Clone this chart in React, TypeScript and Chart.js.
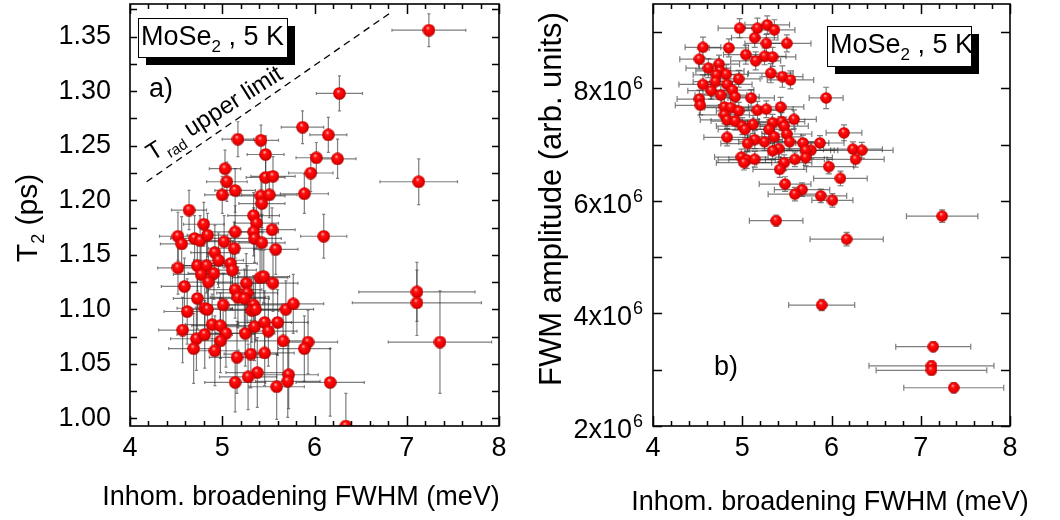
import React, { useEffect, useRef } from "react";
import { Chart, registerables } from "chart.js";

Chart.register(...registerables);

const FONT = '"Liberation Sans", Arial, Helvetica, sans-serif';

// ---------- Panel a) : T2 vs inhomogeneous broadening ----------
const fwhmA = [
  7.24, 6.27, 5.87, 6.15, 6.02, 6.25, 5.96, 5.89, 7.13, 6.10,
  5.17, 5.42, 5.47, 5.03, 5.05, 5.47, 5.55, 5.00, 5.14, 5.42,
  5.51, 5.43, 4.64, 5.34, 5.37, 4.80, 5.14, 5.34, 5.54, 4.52,
  4.56, 4.70, 4.76, 4.84, 5.02, 5.35, 5.43, 5.13, 4.92, 5.58,
  4.52, 4.59, 4.73, 4.83, 4.77, 4.91, 4.85, 4.96, 5.09, 5.11,
  5.41, 5.45, 5.55, 5.26, 4.73, 5.14, 5.27, 5.17, 5.24, 5.01,
  4.81, 4.84, 4.62, 5.34, 5.32, 5.36, 5.69, 5.77, 7.11, 7.11,
  7.36, 4.57, 4.72, 4.81, 4.69, 4.89, 4.98, 5.04, 4.98, 4.92,
  5.25, 5.35, 5.46, 5.50, 5.60, 5.66, 5.93, 5.89, 5.16, 5.31,
  5.46, 5.38, 5.28, 5.14, 5.59, 5.72, 5.71, 6.17, 6.34,
];
const t2A = [
  1.356, 1.298, 1.267, 1.260, 1.239, 1.238, 1.225, 1.206, 1.217, 1.167,
  1.256, 1.255, 1.242, 1.229, 1.217, 1.221, 1.222, 1.205, 1.209, 1.204,
  1.205, 1.197, 1.191, 1.186, 1.179, 1.178, 1.171, 1.171, 1.173, 1.167,
  1.160, 1.165, 1.163, 1.168, 1.162, 1.165, 1.161, 1.156, 1.152, 1.155,
  1.138, 1.121, 1.140, 1.140, 1.132, 1.133, 1.125, 1.145, 1.142, 1.136,
  1.129, 1.130, 1.124, 1.124, 1.110, 1.118, 1.115, 1.111, 1.110, 1.104,
  1.101, 1.100, 1.098, 1.104, 1.099, 1.100, 1.100, 1.105, 1.116, 1.106,
  1.070, 1.081, 1.073, 1.077, 1.064, 1.086, 1.085, 1.078, 1.071, 1.062,
  1.078, 1.084, 1.088, 1.080, 1.088, 1.071, 1.070, 1.064, 1.056, 1.059,
  1.060, 1.042, 1.038, 1.033, 1.029, 1.040, 1.034, 1.033, 0.993,
];
const fwhmErrA = [
  0.40, 0.25, 0.23, 0.20, 0.22, 0.20, 0.24, 0.26, 0.42, 0.25,
  0.17, 0.19, 0.20, 0.17, 0.22, 0.21, 0.24, 0.19, 0.22, 0.26,
  0.30, 0.25, 0.19, 0.28, 0.24, 0.22, 0.30, 0.27, 0.25, 0.20,
  0.23, 0.26, 0.24, 0.22, 0.27, 0.29, 0.25, 0.28, 0.26, 0.24,
  0.22, 0.25, 0.27, 0.25, 0.30, 0.28, 0.26, 0.27, 0.29, 0.26,
  0.30, 0.28, 0.27, 0.31, 0.26, 0.29, 0.33, 0.30, 0.27, 0.28,
  0.30, 0.27, 0.25, 0.31, 0.29, 0.27, 0.30, 0.33, 0.63, 0.70,
  0.56, 0.26, 0.28, 0.30, 0.27, 0.29, 0.31, 0.28, 0.30, 0.26,
  0.32, 0.30, 0.29, 0.31, 0.33, 0.30, 0.32, 0.28, 0.30, 0.29,
  0.32, 0.34, 0.31, 0.33, 0.30, 0.32, 0.35, 0.37, 0.30,
];
const t2ErrA = [
  0.015, 0.016, 0.015, 0.016, 0.014, 0.018, 0.017, 0.018, 0.021, 0.020,
  0.016, 0.014, 0.017, 0.017, 0.018, 0.019, 0.018, 0.017, 0.020, 0.019,
  0.021, 0.022, 0.018, 0.021, 0.023, 0.020, 0.024, 0.022, 0.020, 0.022,
  0.025, 0.021, 0.023, 0.020, 0.024, 0.022, 0.026, 0.024, 0.025, 0.023,
  0.024, 0.026, 0.023, 0.025, 0.027, 0.024, 0.026, 0.025, 0.023, 0.027,
  0.025, 0.024, 0.026, 0.027, 0.028, 0.026, 0.025, 0.028, 0.027, 0.029,
  0.026, 0.028, 0.030, 0.027, 0.029, 0.028, 0.026, 0.027, 0.027, 0.030,
  0.047, 0.030, 0.029, 0.031, 0.032, 0.028, 0.030, 0.031, 0.029, 0.032,
  0.030, 0.031, 0.029, 0.032, 0.030, 0.031, 0.029, 0.030, 0.033, 0.031,
  0.030, 0.032, 0.030, 0.027, 0.030, 0.031, 0.033, 0.031, 0.030,
];
const limitLineX = [4.18, 6.85];
const limitLineY = [1.217, 1.3735];
const fwhmTicks = [4, 5, 6, 7, 8];
const t2Ticks = [1.0, 1.05, 1.1, 1.15, 1.2, 1.25, 1.3, 1.35];

// ---------- Panel b) : FWM amplitude vs inhomogeneous broadening ----------
const fwhmB = [
  4.97, 5.17, 5.28, 5.36, 5.14, 5.27, 5.50, 4.56, 4.85, 5.04,
  5.25, 5.34, 5.15, 4.52, 4.62, 4.74, 4.75, 4.82, 4.71, 5.32,
  5.45, 5.54, 4.96, 4.56, 4.70, 4.83, 4.65, 4.76, 4.89, 4.92,
  4.52, 4.53, 5.10, 5.94, 4.80, 4.87, 4.96, 5.17, 5.27, 5.43,
  4.80, 4.83, 4.92, 5.58, 5.00, 5.12, 5.34, 5.44, 5.03, 5.30,
  5.47, 6.14, 4.83, 5.14, 5.25, 5.36, 5.50, 5.53, 5.06, 5.68,
  5.87, 5.41, 5.34, 5.77, 5.71, 6.24, 6.34, 4.99, 5.05, 5.14,
  5.02, 5.71, 5.59, 6.27, 5.47, 5.97, 5.42, 6.10, 5.48, 5.67,
  5.59, 5.88, 6.01, 5.38, 7.24, 6.17, 5.89, 7.14, 7.12, 7.12,
  7.37,
];
const ampB = [
  9.07e6, 9.07e6, 9.13e6, 9.04e6, 8.90e6, 8.80e6, 8.80e6, 8.73e6, 8.72e6, 8.60e6,
  8.57e6, 8.56e6, 8.49e6, 8.52e6, 8.36e6, 8.43e6, 8.31e6, 8.25e6, 8.24e6, 8.27e6,
  8.21e6, 8.15e6, 8.17e6, 8.07e6, 8.12e6, 8.07e6, 7.96e6, 7.88e6, 7.97e6, 7.85e6,
  7.81e6, 7.70e6, 7.83e6, 7.83e6, 7.67e6, 7.66e6, 7.60e6, 7.61e6, 7.63e6, 7.67e6,
  7.53e6, 7.44e6, 7.42e6, 7.45e6, 7.33e6, 7.36e6, 7.39e6, 7.41e6, 7.27e6, 7.27e6,
  7.33e6, 7.21e6, 7.13e6, 7.09e6, 7.05e6, 7.14e6, 7.19e6, 7.05e6, 7.02e6, 7.03e6,
  7.03e6, 6.93e6, 6.89e6, 6.90e6, 6.90e6, 6.92e6, 6.90e6, 6.78e6, 6.73e6, 6.74e6,
  6.68e6, 6.77e6, 6.74e6, 6.74e6, 6.68e6, 6.61e6, 6.56e6, 6.40e6, 6.30e6, 6.20e6,
  6.12e6, 6.09e6, 6.01e6, 5.65e6, 5.73e6, 5.32e6, 4.15e6, 3.41e6, 3.07e6, 2.99e6,
  2.68e6,
];
const fwhmErrB = [
  0.24, 0.22, 0.25, 0.23, 0.26, 0.24, 0.27, 0.20, 0.22, 0.25,
  0.24, 0.26, 0.28, 0.22, 0.25, 0.23, 0.27, 0.24, 0.26, 0.25,
  0.23, 0.26, 0.24, 0.27, 0.25, 0.28, 0.26, 0.29, 0.24, 0.27,
  0.25, 0.28, 0.26, 0.19, 0.27, 0.29, 0.25, 0.28, 0.30, 0.26,
  0.28, 0.30, 0.27, 0.25, 0.29, 0.31, 0.28, 0.26, 0.30, 0.29,
  0.27, 0.20, 0.26, 0.31, 0.29, 0.30, 0.28, 0.32, 0.30, 0.29,
  0.27, 0.33, 0.31, 0.30, 0.32, 0.33, 0.35, 0.30, 0.32, 0.29,
  0.31, 0.30, 0.33, 0.32, 0.31, 0.28, 0.30, 0.30, 0.29, 0.31,
  0.30, 0.29, 0.23, 0.30, 0.40, 0.41, 0.37, 0.42, 0.70, 0.62,
  0.56,
];
const ampErrB = [
  0.17e6, 0.18e6, 0.16e6, 0.18e6, 0.17e6, 0.16e6, 0.15e6, 0.18e6, 0.16e6, 0.17e6,
  0.15e6, 0.17e6, 0.16e6, 0.18e6, 0.17e6, 0.16e6, 0.18e6, 0.17e6, 0.16e6, 0.17e6,
  0.19e6, 0.16e6, 0.15e6, 0.17e6, 0.16e6, 0.17e6, 0.15e6, 0.17e6, 0.16e6, 0.15e6,
  0.16e6, 0.17e6, 0.15e6, 0.19e6, 0.16e6, 0.17e6, 0.15e6, 0.16e6, 0.15e6, 0.17e6,
  0.16e6, 0.15e6, 0.16e6, 0.17e6, 0.15e6, 0.16e6, 0.15e6, 0.16e6, 0.15e6, 0.17e6,
  0.16e6, 0.14e6, 0.15e6, 0.16e6, 0.15e6, 0.16e6, 0.15e6, 0.14e6, 0.15e6, 0.14e6,
  0.13e6, 0.15e6, 0.14e6, 0.15e6, 0.14e6, 0.13e6, 0.14e6, 0.14e6, 0.15e6, 0.14e6,
  0.13e6, 0.14e6, 0.13e6, 0.14e6, 0.14e6, 0.13e6, 0.14e6, 0.13e6, 0.13e6, 0.12e6,
  0.12e6, 0.12e6, 0.12e6, 0.10e6, 0.11e6, 0.12e6, 0.10e6, 0.09e6, 0.09e6, 0.08e6,
  0.09e6,
];
const ampTicks = [2e6, 4e6, 6e6, 8e6];

// ---------- helpers ----------
function range(from: number, to: number, step: number): number[] {
  const out: number[] = [];
  for (let v = from; v <= to + step * 1e-6; v += step) out.push(+v.toFixed(6));
  return out;
}

function makeSphere(d: number): HTMLCanvasElement {
  const c = document.createElement("canvas");
  c.width = d;
  c.height = d;
  const g = c.getContext("2d")!;
  const r = d / 2;
  const grad = g.createRadialGradient(d * 0.4, d * 0.3, 0, d * 0.5, d * 0.5, r * 1.02);
  grad.addColorStop(0, "#ffe4e4");
  grad.addColorStop(0.12, "#ff8080");
  grad.addColorStop(0.3, "#ff1010");
  grad.addColorStop(0.7, "#f00000");
  grad.addColorStop(0.9, "#c00000");
  grad.addColorStop(1, "#900000");
  g.fillStyle = grad;
  g.beginPath();
  g.arc(r, r, r - 0.2, 0, Math.PI * 2);
  g.fill();
  return c;
}

const errorBarPlugin = {
  id: "errorBars",
  beforeDatasetsDraw(chart: any) {
    const { ctx, chartArea: a, scales } = chart;
    const x = scales.x;
    const y = scales.y;
    ctx.save();
    ctx.beginPath();
    ctx.rect(a.left, a.top, a.right - a.left, a.bottom - a.top);
    ctx.clip();
    ctx.strokeStyle = "rgba(45,45,45,0.62)";
    ctx.lineWidth = 1.2;
    chart.data.datasets.forEach((ds: any) => {
      if (!ds.errX) return;
      const cap = ds.capSize || 2;
      ds.data.forEach((p: any, i: number) => {
        const px = x.getPixelForValue(p.x);
        const py = y.getPixelForValue(p.y);
        const x0 = x.getPixelForValue(p.x - ds.errX[i]);
        const x1 = x.getPixelForValue(p.x + ds.errX[i]);
        const y0 = y.getPixelForValue(p.y - ds.errY[i]);
        const y1 = y.getPixelForValue(p.y + ds.errY[i]);
        ctx.beginPath();
        ctx.moveTo(x0, py);
        ctx.lineTo(x1, py);
        ctx.moveTo(px, y0);
        ctx.lineTo(px, y1);
        ctx.moveTo(x0, py - cap);
        ctx.lineTo(x0, py + cap);
        ctx.moveTo(x1, py - cap);
        ctx.lineTo(x1, py + cap);
        ctx.moveTo(px - cap, y0);
        ctx.lineTo(px + cap, y0);
        ctx.moveTo(px - cap, y1);
        ctx.lineTo(px + cap, y1);
        ctx.stroke();
      });
    });
    ctx.restore();
  },
};

const framePlugin = {
  id: "frame",
  afterDraw(chart: any, _args: any, opts: any) {
    const { ctx, chartArea: a, scales } = chart;
    const x = scales.x;
    const y = scales.y;
    ctx.save();
    ctx.strokeStyle = "#000";
    ctx.lineWidth = 1.5;
    ctx.beginPath();
    (opts.xTicks as number[]).forEach((v) => {
      const major = Math.abs(v - Math.round(v)) < 1e-6;
      const len = major ? opts.xMajor : opts.xMinor;
      const px = Math.round(x.getPixelForValue(v)) + 0.5;
      ctx.moveTo(px, a.bottom);
      ctx.lineTo(px, a.bottom - len);
      ctx.moveTo(px, a.top);
      ctx.lineTo(px, a.top + len);
    });
    (opts.yTicks as number[]).forEach((v) => {
      const py = Math.round(y.getPixelForValue(v)) + 0.5;
      ctx.moveTo(a.left, py);
      ctx.lineTo(a.left + opts.yLen, py);
      ctx.moveTo(a.right, py);
      ctx.lineTo(a.right - opts.yLen, py);
    });
    ctx.stroke();
    ctx.lineWidth = 1.6;
    ctx.strokeRect(a.left, a.top, a.right - a.left, a.bottom - a.top);
    ctx.restore();
  },
};

function drawLegendBox(ctx: CanvasRenderingContext2D, bx: number, by: number, bw: number, bh: number) {
  ctx.fillStyle = "#000";
  ctx.fillRect(bx + 8, by + 8, bw, bh);
  ctx.fillStyle = "#fff";
  ctx.fillRect(bx, by, bw, bh);
  ctx.strokeStyle = "#000";
  ctx.lineWidth = 1;
  ctx.strokeRect(bx + 0.5, by + 0.5, bw, bh);
  ctx.fillStyle = "#000";
  ctx.textAlign = "left";
  ctx.textBaseline = "alphabetic";
  let cx = bx + 3;
  const base = by + 27;
  ctx.font = `27px ${FONT}`;
  ctx.fillText("MoSe", cx, base);
  cx += ctx.measureText("MoSe").width;
  ctx.font = `17px ${FONT}`;
  ctx.fillText("2", cx, base + 7);
  cx += ctx.measureText("2").width;
  ctx.font = `27px ${FONT}`;
  ctx.fillText(" , 5 K", cx, base);
}

function drawXTitle(ctx: CanvasRenderingContext2D, cx: number, base: number) {
  ctx.save();
  ctx.fillStyle = "#000";
  ctx.font = `27px ${FONT}`;
  ctx.textAlign = "center";
  ctx.textBaseline = "alphabetic";
  ctx.fillText("Inhom. broadening FWHM (meV)", cx, base);
  ctx.restore();
}

const decoAPlugin = {
  id: "decoA",
  afterDraw(chart: any) {
    const { ctx, scales } = chart;
    const x = scales.x;
    const y = scales.y;
    ctx.save();
    drawLegendBox(ctx, 138, 18, 149, 39);
    drawXTitle(ctx, 301, 505);
    ctx.fillStyle = "#000";
    ctx.textAlign = "left";
    ctx.textBaseline = "alphabetic";
    ctx.font = `27px ${FONT}`;
    ctx.fillText("a)", 149, 97);
    // y title
    ctx.save();
    ctx.translate(37, 218);
    ctx.rotate(-Math.PI / 2);
    ctx.textAlign = "left";
    ctx.font = `30px ${FONT}`;
    const wT = ctx.measureText("T").width;
    const wP = ctx.measureText(" (ps)").width;
    ctx.font = `18px ${FONT}`;
    const w2 = ctx.measureText("2").width;
    let sx = -(wT + w2 + wP) / 2;
    ctx.font = `30px ${FONT}`;
    ctx.fillText("T", sx, 0);
    sx += wT;
    ctx.font = `18px ${FONT}`;
    ctx.fillText("2", sx, 7);
    sx += w2;
    ctx.font = `30px ${FONT}`;
    ctx.fillText(" (ps)", sx, 0);
    ctx.restore();
    // T_rad upper limit label along the dashed line
    const p0x = x.getPixelForValue(limitLineX[0]);
    const p0y = y.getPixelForValue(limitLineY[0]);
    const p1x = x.getPixelForValue(limitLineX[1]);
    const p1y = y.getPixelForValue(limitLineY[1]);
    const ang = Math.atan2(p1y - p0y, p1x - p0x) + 0.04;
    ctx.translate(p0x, p0y);
    ctx.rotate(ang);
    ctx.textAlign = "left";
    let tx = 16;
    const ty = -14;
    ctx.font = `24px ${FONT}`;
    ctx.fillText("T", tx, ty);
    tx += ctx.measureText("T").width + 2;
    ctx.font = `15px ${FONT}`;
    ctx.fillText("rad", tx, ty + 7);
    tx += ctx.measureText("rad").width;
    ctx.font = `24px ${FONT}`;
    ctx.fillText(" upper limit", tx, ty);
    ctx.restore();
  },
};

const decoBPlugin = {
  id: "decoB",
  afterDraw(chart: any) {
    const { ctx, chartArea: a, scales } = chart;
    const y = scales.y;
    ctx.save();
    drawLegendBox(ctx, 297, 26, 144, 40);
    drawXTitle(ctx, 300, 510);
    ctx.fillStyle = "#000";
    ctx.textBaseline = "alphabetic";
    ctx.font = `27px ${FONT}`;
    ctx.textAlign = "left";
    ctx.fillText("b)", 184, 375);
    // y tick labels with superscript exponent
    ampTicks.forEach((v) => {
      const py = y.getPixelForValue(v);
      const mant = Math.round(v / 1e6);
      ctx.font = `27px ${FONT}`;
      ctx.textAlign = "right";
      ctx.fillText(`${mant}x10`, a.left - 21, py + 12);
      ctx.font = `18px ${FONT}`;
      ctx.textAlign = "left";
      ctx.fillText("6", a.left - 20, py + 1);
    });
    // y title
    ctx.save();
    ctx.translate(31, 199);
    ctx.rotate(-Math.PI / 2);
    ctx.font = `31px ${FONT}`;
    ctx.textAlign = "center";
    ctx.fillText("FWM amplitude (arb. units)", 0, 0);
    ctx.restore();
    ctx.restore();
  },
};

function xScale(height: number) {
  return {
    type: "linear" as const,
    min: 4,
    max: 8,
    grid: { display: false, drawTicks: false },
    border: { display: false },
    afterBuildTicks: (s: any) => {
      s.ticks = fwhmTicks.map((v) => ({ value: v }));
    },
    afterFit: (s: any) => {
      s.height = height;
      s.paddingLeft = 0;
      s.paddingRight = 0;
      s.paddingTop = 0;
      s.paddingBottom = 0;
    },
    ticks: {
      color: "#000",
      font: { family: FONT, size: 27 },
      padding: 6,
      maxRotation: 0,
      autoSkip: false,
      callback: (v: any) => String(v),
    },
  };
}

export default function App() {
  const refA = useRef<HTMLCanvasElement>(null);
  const refB = useRef<HTMLCanvasElement>(null);

  useEffect(() => {
    const sphereA = makeSphere(13);
    const sphereB = makeSphere(12);

    const chartA = new Chart(refA.current!, {
      type: "scatter",
      data: {
        datasets: [
          {
            data: limitLineX.map((xv, i) => ({ x: xv, y: limitLineY[i] })),
            showLine: true,
            borderColor: "#000",
            borderWidth: 1.3,
            borderDash: [7, 5],
            pointRadius: 0,
            clip: 0,
          } as any,
          {
            data: fwhmA.map((xv, i) => ({ x: xv, y: t2A[i] })),
            errX: fwhmErrA,
            errY: t2ErrA,
            capSize: 1.5,
            pointStyle: sphereA,
            pointRadius: 6,
            clip: 0,
          } as any,
        ],
      },
      options: {
        responsive: false,
        animation: false,
        events: [],
        layout: { padding: { top: 4, right: 31, left: 0, bottom: 0 }, autoPadding: false },
        plugins: {
          legend: { display: false },
          tooltip: { enabled: false },
          frame: {
            xTicks: range(4, 8, 0.2),
            yTicks: range(1.0, 1.375, 0.025),
            xMajor: 10,
            xMinor: 5,
            yLen: 7,
          },
        } as any,
        scales: {
          x: xScale(94),
          y: {
            type: "linear",
            min: 0.993,
            max: 1.38,
            grid: { display: false, drawTicks: false },
            border: { display: false },
            afterBuildTicks: (s: any) => {
              s.ticks = t2Ticks.map((v) => ({ value: v }));
            },
            afterFit: (s: any) => {
              s.width = 130;
              s.paddingTop = 0;
              s.paddingBottom = 0;
              s.paddingLeft = 0;
              s.paddingRight = 0;
            },
            ticks: {
              color: "#000",
              font: { family: FONT, size: 27 },
              padding: 19,
              autoSkip: false,
              callback: (v: any) => Number(v).toFixed(2),
            },
          },
        },
      },
      plugins: [errorBarPlugin, framePlugin, decoAPlugin],
    });

    const chartB = new Chart(refB.current!, {
      type: "scatter",
      data: {
        datasets: [
          {
            data: fwhmB.map((xv, i) => ({ x: xv, y: ampB[i] })),
            errX: fwhmErrB,
            errY: ampErrB,
            capSize: 3,
            pointStyle: sphereB,
            pointRadius: 6,
            clip: 0,
          } as any,
        ],
      },
      options: {
        responsive: false,
        animation: false,
        events: [],
        layout: { padding: { top: 4, right: 50, left: 0, bottom: 0 }, autoPadding: false },
        plugins: {
          legend: { display: false },
          tooltip: { enabled: false },
          frame: {
            xTicks: range(4, 8, 0.2),
            yTicks: range(2e6, 9e6, 1e6),
            xMajor: 10,
            xMinor: 5,
            yLen: 9,
          },
        } as any,
        scales: {
          x: xScale(94),
          y: {
            type: "linear",
            min: 2e6,
            max: 9.5e6,
            grid: { display: false, drawTicks: false },
            border: { display: false },
            afterBuildTicks: (s: any) => {
              s.ticks = ampTicks.map((v) => ({ value: v }));
            },
            afterFit: (s: any) => {
              s.width = 123;
              s.paddingTop = 0;
              s.paddingBottom = 0;
              s.paddingLeft = 0;
              s.paddingRight = 0;
            },
            ticks: { display: false },
          },
        },
      },
      plugins: [errorBarPlugin, framePlugin, decoBPlugin],
    });

    return () => {
      chartA.destroy();
      chartB.destroy();
    };
  }, []);

  return (
    <div style={{ position: "fixed", left: 0, top: 0, width: 1060, height: 520, background: "#fff" }}>
      <canvas
        ref={refA}
        width={530}
        height={520}
        style={{ position: "absolute", left: 0, top: 0, width: 530, height: 520 }}
      />
      <canvas
        ref={refB}
        width={530}
        height={520}
        style={{ position: "absolute", left: 530, top: 0, width: 530, height: 520 }}
      />
    </div>
  );
}
